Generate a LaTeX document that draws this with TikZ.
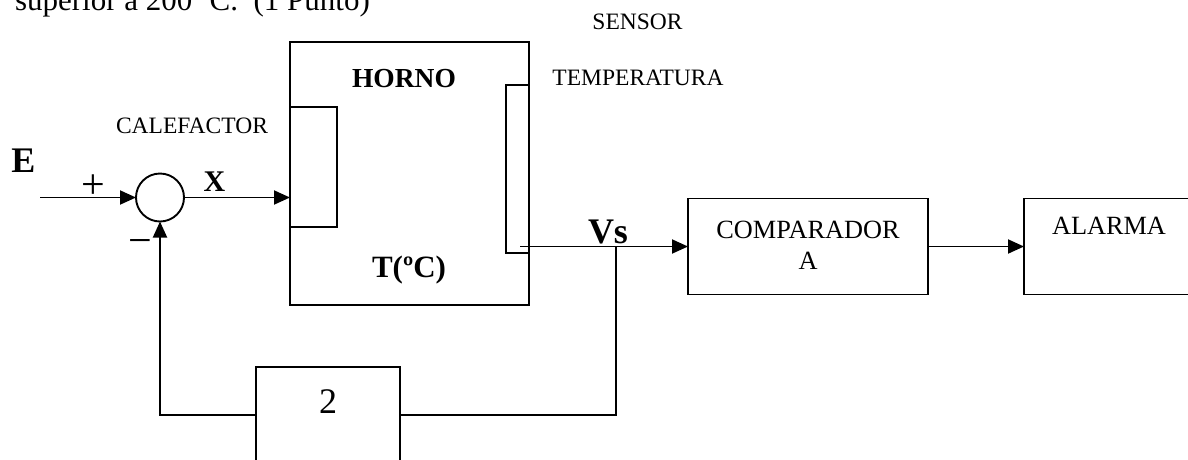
\documentclass[tikz,border=0pt]{standalone}
\usepackage{fontspec}
\setmainfont{Liberation Serif}
\usetikzlibrary{arrows.meta}
\tikzset{
  ln/.style={line width=1.9pt},
  arr/.style={ln,-{Triangle[length=16pt,width=14pt]}},
  blk/.style={draw,ln,rectangle,inner sep=0pt,outer sep=0pt},
  txt/.style={inner sep=0pt,outer sep=0pt,anchor=base},
  lbl/.style={txt,font=\fontsize{23.5}{28}\selectfont},
  blbl/.style={txt,font=\fontsize{26.3}{31}\selectfont},
  sgn/.style={inner sep=0pt,outer sep=0pt,font=\fontsize{42}{48}\selectfont},
}
\begin{document}
\begin{tikzpicture}[x=1pt,y=-1pt]
\useasboundingbox (0,0) rectangle (1188,459);
\clip (0,0) rectangle (1188,459);
% top clipped text
\node[txt,anchor=base west,font=\fontsize{31}{37}\selectfont] (top) at (15,10) {superior a 200 ºC.\ \ (1 Punto)};
% blocks
\node[blk,minimum width=239pt,minimum height=263pt] (horno) at (409.5,173.5) {};
\node[blk,minimum width=47pt,minimum height=120pt] (heater) at (313.5,167) {};
\node[blk,minimum width=23pt,minimum height=168pt] (sensor) at (517.5,169) {};
\node[draw,ln,circle,minimum size=48pt,inner sep=0pt,outer sep=0pt] (sum) at (160,197.5) {};
\node[blk,minimum width=240pt,minimum height=96pt] (comp) at (808,246.5) {};
\node[blk,minimum width=236pt,minimum height=96pt] (alarm) at (1142,246.5) {};
\node[blk,minimum width=144pt,minimum height=96pt] (gain) at (328,415) {};
% texts
\node[txt,font=\bfseries\fontsize{36}{40}\selectfont] (E) at (23.5,172) {E};
\node[sgn] (plus) at (93,186.5) {+};
\node[sgn] (minus) at (140.5,247) {−};
\node[txt,font=\bfseries\fontsize{30}{36}\selectfont] (X) at (214.5,191) {X};
\node[lbl] (cal) at (192,133.5) {CALEFACTOR};
\node[txt,font=\bfseries\fontsize{27.5}{32}\selectfont] (hornot) at (404,87) {HORNO};
\node[lbl] (sens) at (637.5,29) {SENSOR};
\node[lbl] (temp) at (638,85) {TEMPERATURA};
\node[txt,font=\bfseries\fontsize{36}{40}\selectfont] (vs) at (608,243) {Vs};
\node[txt,font=\bfseries\fontsize{31}{36}\selectfont] (tc) at (409,277) {T(ºC)};
\node[blbl] (compt1) at (808,238) {COMPARADOR};
\node[blbl] (compt2) at (808,269) {A};
\node[blbl] (alarmt) at (1109,234) {ALARMA};
\node[txt,font=\fontsize{36}{40}\selectfont] (two) at (328,413) {2};
% connectors
\coordinate (ein) at (40,197.5);
\coordinate (vsstart) at (520,246.5);
\coordinate (j) at (616,246.5);
\draw[arr] (ein) -- (sum.west);
\draw[arr] (sum.east) -- (sum.east -| heater.west);
\draw[arr] (vsstart) -- (comp.west);
\draw[arr] (comp.east) -- (alarm.west);
\draw[ln] (j) |- (gain.east);
\draw[arr] (gain.west) -| (sum.south);
\end{tikzpicture}
\end{document}
